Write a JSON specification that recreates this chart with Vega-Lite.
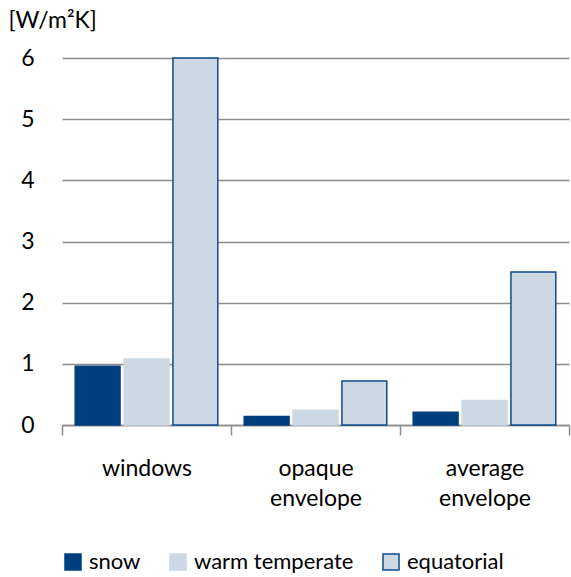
{
  "$schema": "https://vega.github.io/schema/vega-lite/v6.json",
  "autosize": "none",
  "width": 507,
  "height": 367,
  "padding": {"left": 62, "top": 58, "right": 2, "bottom": 152},
  "background": "white",
  "config": {
    "font": "Lato",
    "view": {"stroke": null},
    "axis": {"labelFont": "Lato", "titleFont": "Lato", "labelColor": "#000000", "titleColor": "#000000"},
    "legend": {"labelColor": "#000000"}
  },
  "data": {
    "values": [
      {"category": "windows", "series": "snow", "value": 0.96},
      {"category": "windows", "series": "warm temperate", "value": 1.08},
      {"category": "windows", "series": "equatorial", "value": 6.0},
      {"category": "opaque envelope", "series": "snow", "value": 0.14},
      {"category": "opaque envelope", "series": "warm temperate", "value": 0.24},
      {"category": "opaque envelope", "series": "equatorial", "value": 0.72},
      {"category": "average envelope", "series": "snow", "value": 0.21},
      {"category": "average envelope", "series": "warm temperate", "value": 0.4},
      {"category": "average envelope", "series": "equatorial", "value": 2.5}
    ]
  },
  "mark": {"type": "bar", "strokeWidth": 1.5, "strokeJoin": "miter"},
  "encoding": {
    "x": {
      "field": "category",
      "type": "nominal",
      "sort": ["windows", "opaque envelope", "average envelope"],
      "scale": {"paddingInner": 0, "paddingOuter": 0},
      "axis": {
        "title": null,
        "labelAngle": 0,
        "labelFontSize": 23,
        "labelLineHeight": 30,
        "labelExpr": "split(datum.label, ' ')",
        "labelBaseline": "top",
        "labelPadding": 22,
        "tickBand": "extent",
        "tickSize": 10,
        "tickColor": "#8c8c8c",
        "tickWidth": 1.5,
        "domainColor": "#8c8c8c",
        "domainWidth": 1.5
      }
    },
    "xOffset": {
      "field": "series",
      "sort": ["snow", "warm temperate", "equatorial"],
      "scale": {"paddingInner": 0.082, "paddingOuter": 0.27}
    },
    "y": {
      "field": "value",
      "type": "quantitative",
      "scale": {"domain": [0, 6], "nice": false},
      "axis": {
        "values": [0, 1, 2, 3, 4, 5, 6],
        "ticks": false,
        "domain": false,
        "labelFontSize": 23,
        "labelPadding": 28,
        "gridColor": "#8c8c8c",
        "gridWidth": 1.5,
        "title": "[W/m²K]",
        "titleAngle": 0,
        "titleAlign": "left",
        "titleBaseline": "middle",
        "titleFontWeight": "normal",
        "titleFontSize": 23,
        "titleX": -54,
        "titleY": -38
      }
    },
    "color": {
      "field": "series",
      "type": "nominal",
      "sort": ["snow", "warm temperate", "equatorial"],
      "scale": {"domain": ["snow", "warm temperate", "equatorial"], "range": ["#003f7f", "#ccd8e4", "#ccd8e4"]},
      "legend": {
        "title": null,
        "orient": "bottom",
        "direction": "horizontal",
        "offset": 41,
        "labelFontSize": 22,
        "labelFont": "Lato",
        "labelLimit": 400,
        "symbolType": "square",
        "symbolSize": 256,
        "symbolStrokeWidth": 1.5,
        "columnPadding": 26,
        "labelOffset": 5
      }
    },
    "stroke": {
      "field": "series",
      "type": "nominal",
      "sort": ["snow", "warm temperate", "equatorial"],
      "scale": {"domain": ["snow", "warm temperate", "equatorial"], "range": ["#003f7f", "#ccd8e4", "#0f4a8a"]},
      "legend": {
        "title": null,
        "orient": "bottom",
        "direction": "horizontal",
        "offset": 41,
        "labelFontSize": 22,
        "labelFont": "Lato",
        "labelLimit": 400,
        "symbolType": "square",
        "symbolSize": 256,
        "symbolStrokeWidth": 1.5,
        "columnPadding": 26,
        "labelOffset": 5
      }
    }
  }
}
